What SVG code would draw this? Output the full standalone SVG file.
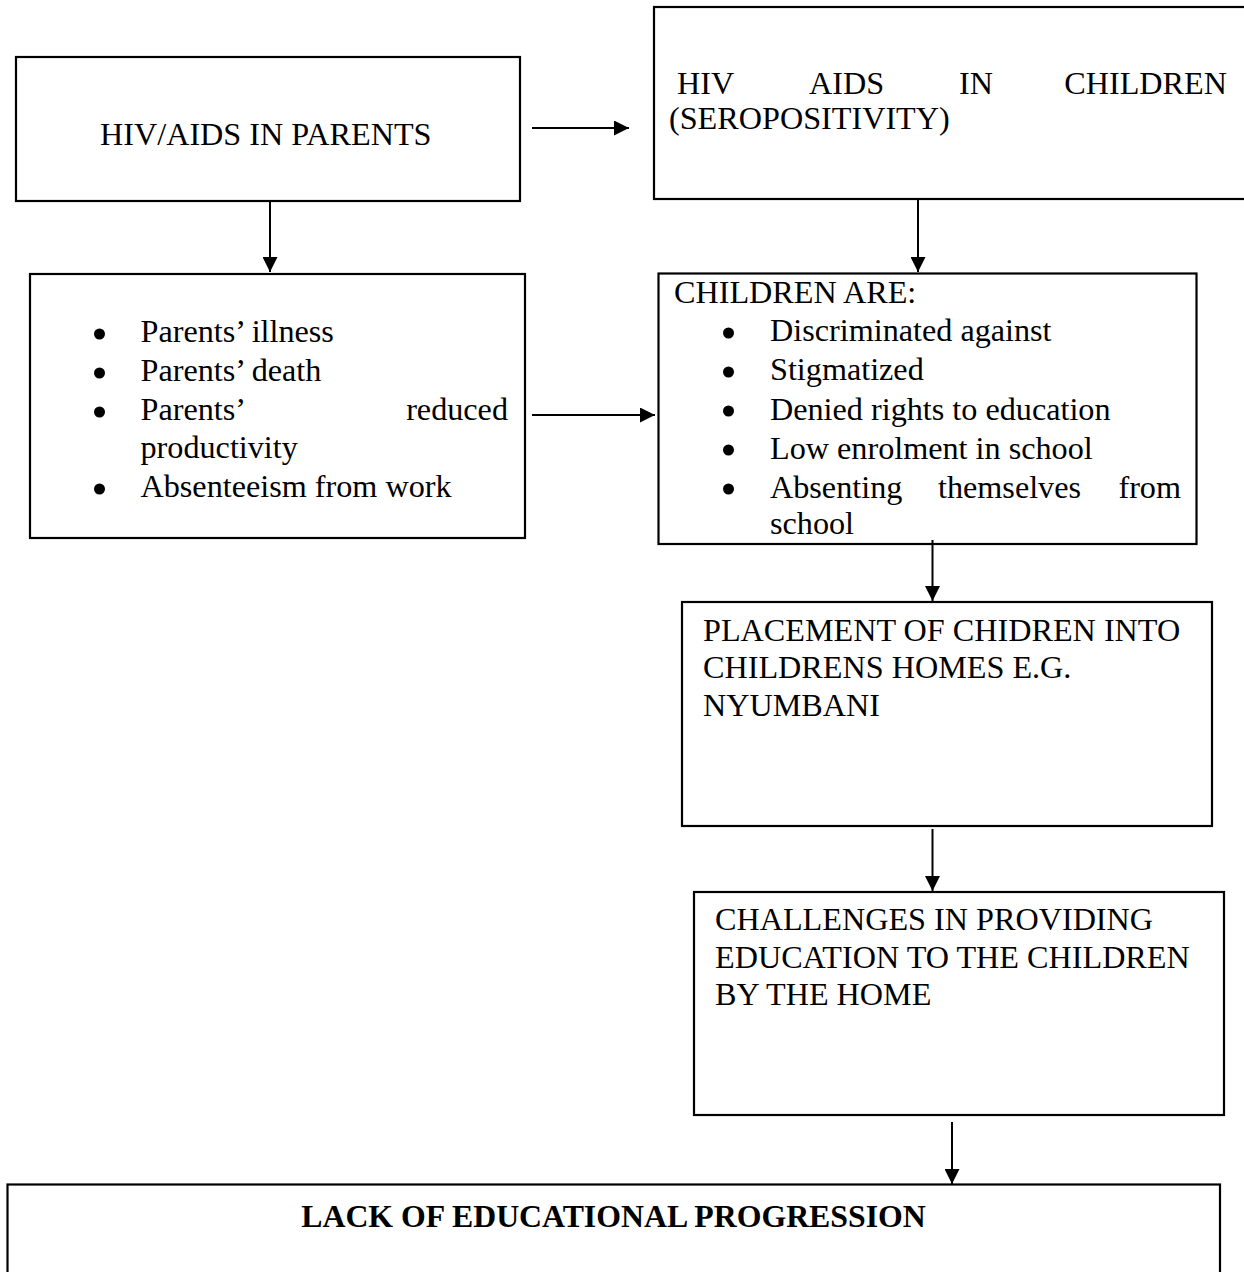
<svg xmlns="http://www.w3.org/2000/svg" width="1244" height="1272" viewBox="0 0 1244 1272">
<style>
.box{fill:#fff;stroke:#000;stroke-width:2.2}
.t{font-family:"Liberation Serif","Times New Roman",serif;font-size:32.2px;fill:#000}
.b{font-weight:bold;text-anchor:middle;font-size:31.8px}
.e{text-anchor:end}
.c{stroke:#000;stroke-width:2;fill:none;marker-end:url(#ah)}
</style>
<defs>
<marker id="ah" markerUnits="userSpaceOnUse" markerWidth="15" markerHeight="15" refX="15" refY="7.5" orient="auto">
<path d="M0,0 L15,7.5 L0,15 z" fill="#000"/>
</marker>
</defs>
<rect width="1244" height="1272" fill="#fff"/>
<g id="parents">
<rect class="box" x="16" y="57" width="504" height="144"/>
<text class="t" x="100" y="145">HIV/AIDS IN PARENTS</text>
</g>
<g id="children-hiv">
<rect class="box" x="654" y="7" width="600" height="192"/>
<text class="t" x="677" y="94">HIV</text>
<text class="t" x="809" y="94">AIDS</text>
<text class="t" x="959" y="94">IN</text>
<text class="t e" x="1227" y="94">CHILDREN</text>
<text class="t" x="669" y="129">(SEROPOSITIVITY)</text>
</g>
<g id="parent-effects">
<rect class="box" x="30" y="274" width="495" height="264"/>
<g fill="#000">
<circle cx="99.5" cy="334" r="5.5"/>
<circle cx="99.5" cy="373" r="5.5"/>
<circle cx="99.5" cy="412" r="5.5"/>
<circle cx="99.5" cy="489" r="5.5"/>
</g>
<text class="t" x="140.5" y="342">Parents’ illness</text>
<text class="t" x="140.5" y="381">Parents’ death</text>
<text class="t" x="140.5" y="420">Parents’</text>
<text class="t e" x="508" y="420">reduced</text>
<text class="t" x="140.5" y="458">productivity</text>
<text class="t" x="140.5" y="497">Absenteeism from work</text>
</g>
<g id="children-are">
<rect class="box" x="658.5" y="273.5" width="538" height="270.5"/>
<text class="t" x="674" y="302.5">CHILDREN ARE:</text>
<g fill="#000">
<circle cx="728.5" cy="333" r="5.5"/>
<circle cx="728.5" cy="372" r="5.5"/>
<circle cx="728.5" cy="411" r="5.5"/>
<circle cx="728.5" cy="450" r="5.5"/>
<circle cx="728.5" cy="489" r="5.5"/>
</g>
<text class="t" x="770" y="341">Discriminated against</text>
<text class="t" x="770" y="380">Stigmatized</text>
<text class="t" x="770" y="419.5">Denied rights to education</text>
<text class="t" x="770" y="458.5">Low enrolment in school</text>
<text class="t" x="770" y="497.5">Absenting</text>
<text class="t" x="938" y="497.5">themselves</text>
<text class="t e" x="1181" y="497.5">from</text>
<text class="t" x="770" y="534">school</text>
</g>
<g id="placement">
<rect class="box" x="682" y="602" width="530" height="224"/>
<text class="t" x="703" y="641">PLACEMENT OF CHIDREN INTO</text>
<text class="t" x="703" y="678">CHILDRENS HOMES E.G.</text>
<text class="t" x="703" y="716">NYUMBANI</text>
</g>
<g id="challenges">
<rect class="box" x="694" y="892" width="530" height="223"/>
<text class="t" x="715" y="930">CHALLENGES IN PROVIDING</text>
<text class="t" x="715" y="968">EDUCATION TO THE CHILDREN</text>
<text class="t" x="715" y="1005">BY THE HOME</text>
</g>
<g id="lack">
<rect class="box" x="7.5" y="1184.5" width="1212.5" height="120"/>
<text class="t b" x="613.5" y="1227">LACK OF EDUCATIONAL PROGRESSION</text>
</g>
<g id="connectors">
<line class="c" x1="532" y1="128" x2="629" y2="128"/>
<line class="c" x1="270" y1="200" x2="270" y2="272"/>
<line class="c" x1="532" y1="415" x2="655" y2="415"/>
<line class="c" x1="918" y1="199" x2="918" y2="272"/>
<line class="c" x1="932.5" y1="540" x2="932.5" y2="601"/>
<line class="c" x1="932.5" y1="829" x2="932.5" y2="891"/>
<line class="c" x1="952" y1="1122" x2="952" y2="1184"/>
</g>
</svg>
